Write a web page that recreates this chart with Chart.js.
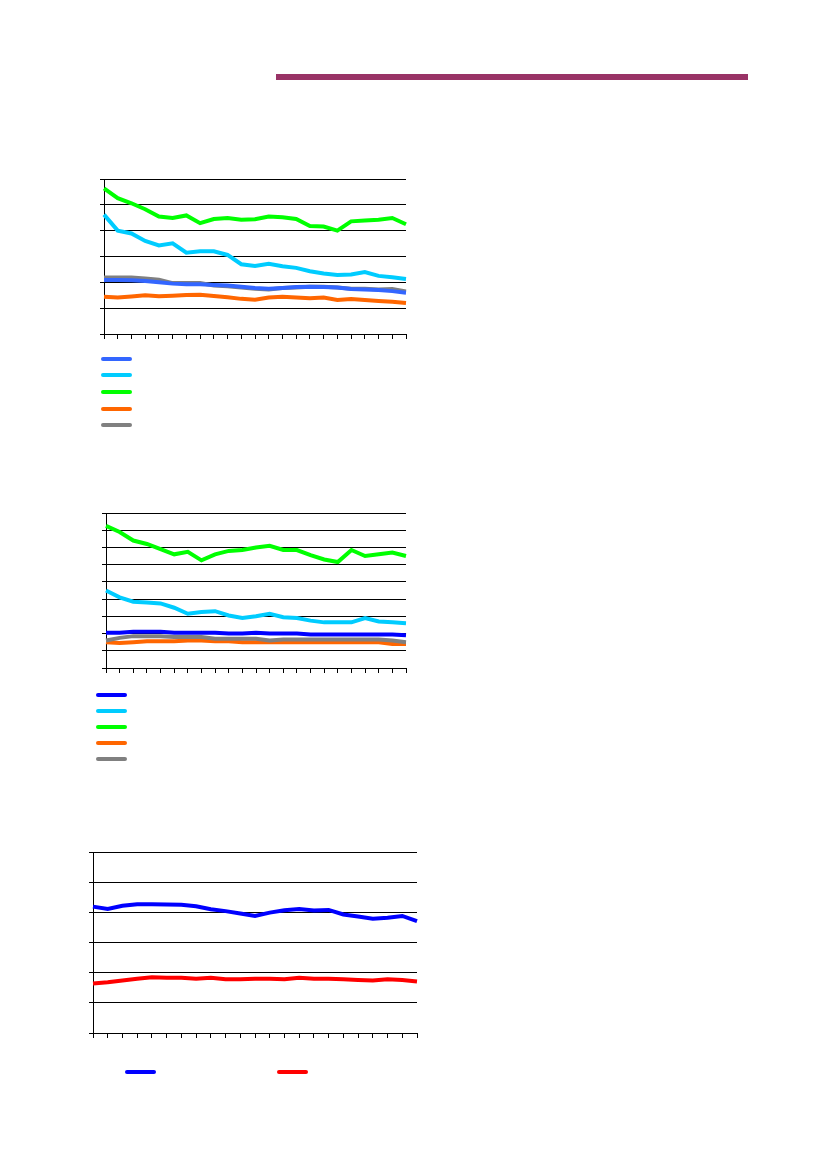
<!DOCTYPE html>
<html><head><meta charset="utf-8">
<script src="https://cdn.jsdelivr.net/npm/chart.js@4/dist/chart.umd.min.js"></script>
<style>
body{margin:0;background:#fff;width:826px;height:1169px;position:relative;overflow:hidden}
.box{position:absolute}
.bar{position:absolute;left:276px;top:74px;width:472px;height:6px;background:#993366}
.leg{position:absolute;width:31px;height:4px;border-radius:2px}
</style></head><body>
<div class="bar"></div>
<div class="box" style="left:100px;top:177px;width:308px;height:162px"><canvas id="c1"></canvas></div>
<div class="box" style="left:102px;top:511px;width:306px;height:162px"><canvas id="c2"></canvas></div>
<div class="box" style="left:89px;top:850px;width:330px;height:188px"><canvas id="c3"></canvas></div>
<div id="legends"></div>
<script>
const periods = Array.from({length: 23}, (_, i) => String(i + 1));

// chart 1
const c1Blue   = [2.09,2.09,2.08,2.05,2.0,1.95,1.93,1.93,1.9,1.88,1.83,1.78,1.75,1.78,1.82,1.83,1.82,1.8,1.74,1.72,1.7,1.66,1.6];
const c1Cyan   = [4.62,4.0,3.89,3.6,3.43,3.51,3.15,3.2,3.2,3.06,2.7,2.63,2.72,2.62,2.56,2.43,2.34,2.28,2.3,2.4,2.25,2.2,2.13];
const c1Green  = [5.64,5.26,5.06,4.83,4.55,4.49,4.59,4.29,4.45,4.49,4.42,4.44,4.55,4.52,4.45,4.18,4.16,4.0,4.36,4.39,4.42,4.49,4.25];
const c1Orange = [1.44,1.41,1.45,1.5,1.46,1.48,1.51,1.52,1.47,1.42,1.36,1.33,1.41,1.44,1.41,1.38,1.41,1.32,1.35,1.32,1.28,1.25,1.2];
const c1Gray   = [2.19,2.19,2.19,2.15,2.1,1.97,1.97,1.97,1.88,1.85,1.8,1.75,1.72,1.78,1.8,1.83,1.83,1.8,1.75,1.75,1.72,1.74,1.65];

// chart 2
const c2Blue   = [2.05,2.05,2.1,2.1,2.1,2.05,2.05,2.05,2.05,2.0,2.0,2.05,2.0,2.0,2.0,1.95,1.95,1.95,1.95,1.95,1.95,1.95,1.9];
const c2Cyan   = [4.5,4.1,3.85,3.8,3.75,3.5,3.15,3.25,3.3,3.05,2.9,3.0,3.15,2.95,2.9,2.75,2.65,2.65,2.65,2.9,2.7,2.65,2.6];
const c2Green  = [8.25,7.9,7.4,7.2,6.9,6.6,6.75,6.25,6.6,6.8,6.85,7.0,7.1,6.85,6.85,6.55,6.3,6.15,6.85,6.5,6.6,6.7,6.5];
const c2Orange = [1.5,1.45,1.5,1.55,1.55,1.55,1.6,1.6,1.55,1.55,1.5,1.5,1.5,1.5,1.5,1.5,1.5,1.5,1.5,1.5,1.5,1.4,1.4];
const c2Gray   = [1.6,1.75,1.85,1.85,1.85,1.8,1.8,1.8,1.7,1.7,1.7,1.7,1.6,1.65,1.65,1.65,1.65,1.65,1.65,1.65,1.65,1.6,1.5];

// chart 3
const c3Blue = [4.19,4.11,4.22,4.27,4.27,4.26,4.25,4.2,4.1,4.04,3.96,3.88,3.99,4.07,4.11,4.06,4.08,3.93,3.86,3.79,3.82,3.88,3.71];
const c3Red  = [1.64,1.68,1.74,1.8,1.85,1.83,1.83,1.8,1.83,1.78,1.78,1.8,1.8,1.78,1.83,1.8,1.8,1.78,1.76,1.74,1.78,1.76,1.71];

function line(data, color) {
  return { data, borderColor: color, borderWidth: 4, pointRadius: 0, tension: 0, fill: false };
}

function buildChart(id, datasets, yMax, yStep) {
  return new Chart(document.getElementById(id), {
    type: "line",
    data: { labels: periods, datasets },
    options: {
      responsive: true,
      maintainAspectRatio: false,
      animation: false,
      layout: { padding: { top: 2, right: 2 } },
      plugins: { legend: { display: false }, tooltip: { enabled: false } },
      scales: {
        x: {
          offset: false,
          ticks: { display: false },
          grid: { drawOnChartArea: false, drawTicks: true, tickLength: 5, color: "#000" },
          border: { color: "#000", width: 1 },
        },
        y: {
          min: 0, max: yMax,
          ticks: { display: false, stepSize: yStep },
          grid: { color: "#000", tickLength: 4, lineWidth: 1 },
          border: { color: "#000", width: 1 },
        },
      },
    },
  });
}

buildChart("c1", [
  line(c1Orange, "#ff6600"), line(c1Blue, "#3366ff"), line(c1Gray, "#808080"),
  line(c1Cyan, "#00ccff"), line(c1Green, "#00ff00"),
], 6, 1);
buildChart("c2", [
  line(c2Gray, "#808080"), line(c2Orange, "#ff6600"), line(c2Blue, "#0000ff"),
  line(c2Cyan, "#00ccff"), line(c2Green, "#00ff00"),
], 9, 1);
buildChart("c3", [line(c3Red, "#ff0000"), line(c3Blue, "#0000ff")], 6, 1);

const legendItems = [
  [101, 357, "#3366ff"], [101, 373, "#00ccff"], [101, 390, "#00ff00"], [101, 407, "#ff6600"], [101, 423, "#808080"],
  [96, 693, "#0000ff"], [96, 709, "#00ccff"], [96, 725, "#00ff00"], [96, 741, "#ff6600"], [96, 757, "#808080"],
  [125, 1070, "#0000ff"], [277, 1070, "#ff0000"],
];
const legends = document.getElementById("legends");
legendItems.forEach(([x, y, c]) => {
  const d = document.createElement("div");
  d.className = "leg";
  d.style.left = x + "px"; d.style.top = y + "px"; d.style.background = c;
  legends.appendChild(d);
});
</script>
</body></html>
